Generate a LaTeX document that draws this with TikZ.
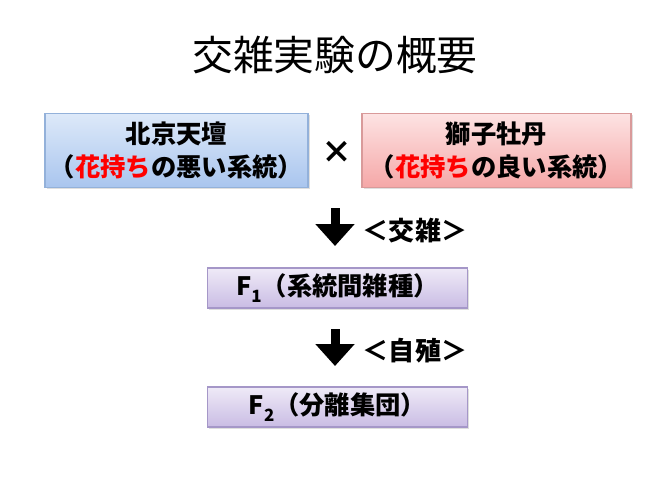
\documentclass[tikz,border=0pt]{standalone}
\usepackage{fontspec}
\setmainfont{Noto Sans CJK JP}
\usepackage{xcolor}
\usetikzlibrary{arrows.meta,positioning,shadows}
\definecolor{skytop}{HTML}{DDE9F9}
\definecolor{skybot}{HTML}{A9C5EE}
\definecolor{skyline}{HTML}{93B1DA}
\definecolor{rosetop}{HTML}{FDE3E3}
\definecolor{rosebot}{HTML}{F5A7A7}
\definecolor{roseline}{HTML}{D99A9A}
\definecolor{lilactop}{HTML}{EFEAF7}
\definecolor{lilacbot}{HTML}{C9BCE4}
\definecolor{lilacline}{HTML}{A597C8}
\newcommand{\hl}[1]{\textcolor{red}{#1}}
\newcommand{\gen}[1]{F\raisebox{-0.3em}{\fontsize{12}{12}\selectfont #1}}

\begin{document}
\begin{tikzpicture}[x=0.025cm,y=-0.025cm,
  box/.style={rectangle,draw,line width=0.8pt,align=center,font=\fontsize{18}{23}\selectfont\bfseries,
    drop shadow={shadow xshift=1.2pt,shadow yshift=-1.2pt,opacity=0.25}},
  parent/.style={box,minimum height=1.85cm},
  child/.style={box,minimum width=6.5cm,minimum height=1.0cm,draw=lilacline,top color=lilactop,bottom color=lilacbot},
  steplbl/.style={font=\fontsize{18.5}{22}\selectfont\bfseries},
  bigarr/.style={line width=0.225cm,-{Triangle[width=0.95cm,length=0.55cm]}}]
\useasboundingbox (0,0) rectangle (670,502);
\node[font=\fontsize{29}{33}\selectfont] (title) at (335,55) {交雑実験の概要};
% parents
\node[parent,minimum width=6.575cm,draw=skyline,top color=skytop,bottom color=skybot] (pekin) at (176.5,150.5)
  {北京天壇\\（\hl{花持ち}の悪い系統）};
\node[parent,minimum width=6.725cm,draw=roseline,top color=rosetop,bottom color=rosebot] (shishi) at (496.5,150.5)
  {獅子牡丹\\（\hl{花持ち}の良い系統）};
\node[font=\fontsize{22}{22}\selectfont\bfseries] (cross) at (337,152) {×};
% crossing
\coordinate (a1) at (335,208);
\coordinate (a1tip) at (335,246);
\draw[bigarr] (a1) -- (a1tip);
\node[steplbl] (cross lbl) at (415,231) {＜交雑＞};
\node[child] (f1) at (337.5,288) {\gen{1}（系統間雑種）};
% selfing
\coordinate (a2) at (335,329);
\coordinate (a2tip) at (335,366);
\draw[bigarr] (a2) -- (a2tip);
\node[steplbl] (self lbl) at (415,351) {＜自殖＞};
\node[child] (f2) at (337.5,407) {\gen{2}（分離集団）};
\end{tikzpicture}
\end{document}
